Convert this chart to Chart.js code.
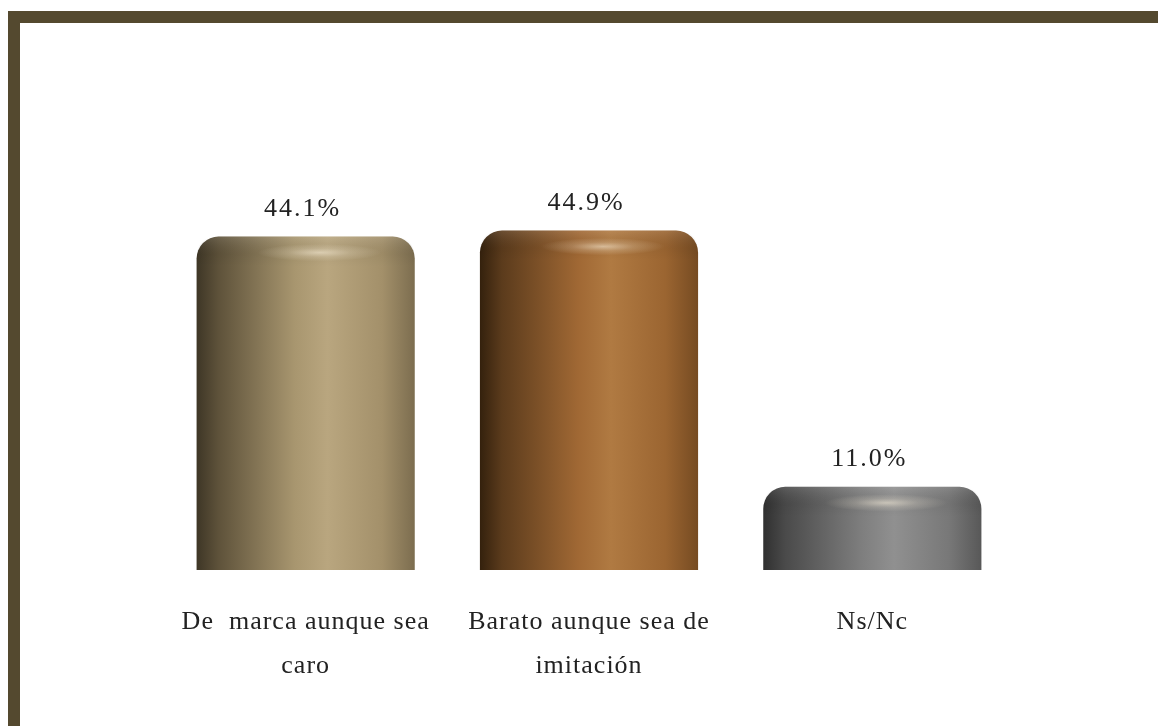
<!DOCTYPE html>
<html>
<head>
<meta charset="utf-8">
<script src="https://cdn.jsdelivr.net/npm/chart.js@4.4.1/dist/chart.umd.min.js"></script>
<style>
    html, body { margin: 0; padding: 0; background: #ffffff; overflow: hidden; }
    #marco {
        position: absolute; left: 8px; top: 11px; width: 1150px; height: 715px;
        border-top: 12px solid #54492f; border-left: 12px solid #54492f; box-sizing: border-box;
    }
    #grafico { position: absolute; left: 0; top: 0; }
</style>
</head>
<body>
<div id="marco"></div>
<canvas id="grafico" width="1158" height="726"></canvas>
<script>
// datos del gráfico
var categorias = [['De  marca aunque sea', 'caro'], ['Barato aunque sea de', 'imitación'], 'Ns/Nc'];
var porcentajes = [44.1, 44.9, 11.0];
var etiquetas = ['44.1%', '44.9%', '11.0%'];

// colores de cada cilindro (izquierda -> derecha)
var tonos = [
    ['#3e3626', '#5e523a', '#a8966f', '#b9a67f', '#a3906a', '#7c6d4f'],
    ['#34210d', '#5b3b1c', '#a06834', '#b07a42', '#9b6531', '#764b22'],
    ['#303030', '#4a4a4a', '#7e7e7e', '#909090', '#787878', '#585858']
];
var paradas = [0, 0.1, 0.45, 0.6, 0.85, 1];

function degradado(context) {
    var chart = context.chart;
    var i = context.dataIndex;
    if (!chart.chartArea || i === undefined) return tonos[0][3];
    var xs = chart.scales.x;
    var centro = xs.getPixelForValue(i);
    var ancho = (xs.width / categorias.length) * 0.77;
    var g = chart.ctx.createLinearGradient(centro - ancho / 2, 0, centro + ancho / 2, 0);
    for (var k = 0; k < paradas.length; k++) {
        g.addColorStop(paradas[k], tonos[i][k]);
    }
    return g;
}

// espaciado de letras parecido al Garamond del original
var espaciado = {
    id: 'espaciado',
    beforeUpdate: function(chart) { chart.ctx.letterSpacing = '1px'; },
    beforeDraw: function(chart) { chart.ctx.letterSpacing = '1px'; }
};

// brillo de la tapa y porcentajes encima de cada barra
var cilindros = {
    id: 'cilindros',
    afterDatasetsDraw: function(chart) {
        var ctx = chart.ctx;
        var meta = chart.getDatasetMeta(0);
        meta.data.forEach(function(bar, i) {
            var w = bar.width;
            var izq = bar.x - w / 2;
            var top = bar.y;
            var r = 22;
            ctx.save();
            ctx.beginPath();
            ctx.moveTo(izq, bar.base);
            ctx.lineTo(izq, top + r);
            ctx.quadraticCurveTo(izq, top, izq + r, top);
            ctx.lineTo(izq + w - r, top);
            ctx.quadraticCurveTo(izq + w, top, izq + w, top + r);
            ctx.lineTo(izq + w, bar.base);
            ctx.closePath();
            ctx.clip();
            // banda de la tapa
            var tapa = ctx.createLinearGradient(0, top, 0, top + 30);
            tapa.addColorStop(0, 'rgba(255,255,255,0.10)');
            tapa.addColorStop(0.6, 'rgba(0,0,0,0.04)');
            tapa.addColorStop(1, 'rgba(0,0,0,0)');
            ctx.fillStyle = tapa;
            ctx.fillRect(izq, top, w, 30);
            // reflejo
            ctx.translate(bar.x + 14, top + 16);
            ctx.scale(1, 0.14);
            var brillo = ctx.createRadialGradient(0, 0, 0, 0, 0, 62);
            brillo.addColorStop(0, 'rgba(255,245,225,0.55)');
            brillo.addColorStop(0.5, 'rgba(255,245,225,0.2)');
            brillo.addColorStop(1, 'rgba(255,245,225,0)');
            ctx.fillStyle = brillo;
            ctx.beginPath();
            ctx.arc(0, 0, 62, 0, Math.PI * 2);
            ctx.fill();
            ctx.restore();

            ctx.save();
            ctx.fillStyle = '#222222';
            ctx.font = '26px "Liberation Serif", serif';
            ctx.letterSpacing = '2px';
            ctx.textAlign = 'center';
            ctx.textBaseline = 'alphabetic';
            ctx.fillText(etiquetas[i], bar.x - 3, top - 21);
            ctx.restore();
        });
    }
};

new Chart(document.getElementById('grafico'), {
    type: 'bar',
    data: {
        labels: categorias,
        datasets: [{
            data: porcentajes,
            backgroundColor: degradado,
            borderWidth: 0,
            borderRadius: { topLeft: 22, topRight: 22, bottomLeft: 0, bottomRight: 0 },
            borderSkipped: 'bottom',
            categoryPercentage: 1,
            barPercentage: 0.77
        }]
    },
    options: {
        responsive: false,
        animation: false,
        layout: { padding: { left: 164, right: 144, top: 192, bottom: 26 } },
        plugins: { legend: { display: false }, tooltip: { enabled: false } },
        scales: {
            x: {
                grid: { display: false, drawTicks: false },
                border: { display: false },
                ticks: {
                    color: '#222222',
                    padding: 30,
                    maxRotation: 0,
                    autoSkip: false,
                    font: { family: '"Liberation Serif", serif', size: 26, lineHeight: 1.7 }
                },
                afterFit: function(s) { s.height = 130; }
            },
            y: { display: false, min: 0, max: 50 }
        }
    },
    plugins: [espaciado, cilindros]
});
</script>
</body>
</html>
